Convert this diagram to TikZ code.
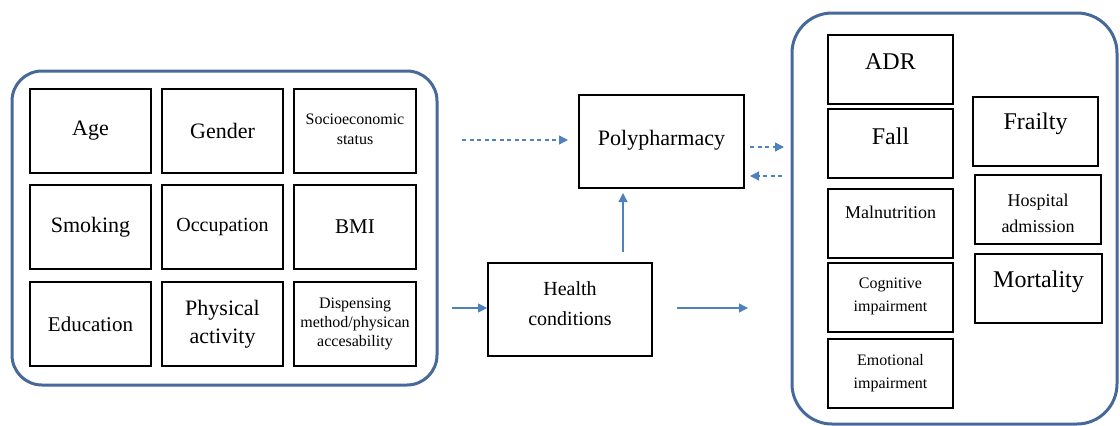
\documentclass[tikz,border=0pt]{standalone}
\usepackage{fontspec}
\setmainfont{Liberation Serif}
\usetikzlibrary{arrows.meta,positioning,calc}
\definecolor{grpblue}{HTML}{46699A}
\definecolor{arrblue}{HTML}{4F81BD}
\tikzset{
  grp/.style={draw=grpblue, line width=3pt, rounded corners=30pt},
  box/.style={draw=black, line width=1.8pt, inner sep=0pt, rectangle},
  lbl/.style={align=center, inner sep=0pt},
  arr/.style={draw=arrblue, line width=1.3pt, -{Triangle[length=9pt,width=9pt]}},
  darr/.style={arr, dash pattern=on 4pt off 3.5pt},
}
\newcommand{\bx}[6]{% name, x1, y1, x2, y2, unused
  \node[box, minimum width={(#4-#2)*1pt}, minimum height={(#5-#3)*1pt}] (#1) at ({(#2+#4)/2},{(#3+#5)/2}) {};}
\begin{document}
\begin{tikzpicture}[x=1pt,y=-1pt]
\useasboundingbox (0,0) rectangle (1120,426);
% groups
\draw[grp] (12,71) rectangle (437,385);
\draw[grp, rounded corners=40pt] (792,13) rectangle (1117,424);
% left grid
\bx{age}{30}{89}{151}{173}{}
\bx{gender}{162}{89}{283}{173}{}
\bx{socio}{294}{89}{416}{173}{}
\bx{smoking}{30}{185}{151}{269}{}
\bx{occup}{162}{185}{283}{269}{}
\bx{bmi}{294}{185}{416}{269}{}
\bx{edu}{30}{282}{151}{366}{}
\bx{phys}{162}{282}{283}{366}{}
\bx{disp}{294}{282}{416}{366}{}
\node[lbl, font=\fontsize{22}{26}\selectfont] at ([yshift=0]age.center) {Age};
\node[lbl, font=\fontsize{22}{26}\selectfont] at (gender.center) {Gender};
\node[lbl, font=\fontsize{16}{20}\selectfont] at ([yshift=2]socio.center) {Socioeconomic\\status};
\node[lbl, font=\fontsize{22}{26}\selectfont] at (smoking.center) {Smoking};
\node[lbl, font=\fontsize{20}{24}\selectfont] at (occup.center) {Occupation};
\node[lbl, font=\fontsize{21}{25}\selectfont] at (bmi.center) {BMI};
\node[lbl, font=\fontsize{21}{25}\selectfont] at (edu.center) {Education};
\node[lbl, font=\fontsize{22}{28}\selectfont] at (phys.center) {Physical\\activity};
\node[lbl, font=\fontsize{16}{19}\selectfont] at (disp.center) {Dispensing\\method/physican\\accesability};
% middle
\bx{poly}{579}{95}{744}{188}{}
\node[lbl, font=\fontsize{22}{26}\selectfont] at ([yshift=1]poly.center) {Polypharmacy};
\bx{health}{488}{263}{652}{356}{}
\node[lbl, font=\fontsize{20}{30}\selectfont] at ([yshift=6]health.center) {Health\\conditions};
% right column 1
\bx{adr}{828}{35}{953}{104}{}
\bx{fall}{828}{109}{953}{178}{}
\bx{maln}{828}{189}{953}{258}{}
\bx{cogn}{828}{263}{953}{332}{}
\bx{emot}{828}{339}{953}{408}{}
\node[lbl, font=\fontsize{24}{28}\selectfont] at ([yshift=8]adr.center) {ADR};
\node[lbl, font=\fontsize{24}{28}\selectfont] at ([yshift=7]fall.center) {Fall};
\node[lbl, font=\fontsize{18}{22}\selectfont] at ([yshift=11]maln.center) {Malnutrition};
\node[lbl, font=\fontsize{16}{23}\selectfont] at ([yshift=1]cogn.center) {Cognitive\\impairment};
\node[lbl, font=\fontsize{16}{23}\selectfont] at ([yshift=0]emot.center) {Emotional\\impairment};
% right column 2
\bx{frail}{973}{97}{1098}{166}{}
\bx{hosp}{975}{175}{1101}{244}{}
\bx{mort}{975}{254}{1102}{323}{}
\node[lbl, font=\fontsize{24}{28}\selectfont] at ([yshift=8]frail.center) {Frailty};
\node[lbl, font=\fontsize{18}{26}\selectfont] at ([yshift=-4]hosp.center) {Hospital\\admission};
\node[lbl, font=\fontsize{24}{28}\selectfont] at ([yshift=7]mort.center) {Mortality};
% connector anchors
\coordinate (dl1) at (462,140);
\coordinate (dl2) at (568,140);
\coordinate (r1a) at (750,147);
\coordinate (r1b) at (784,147);
\coordinate (r2a) at (782,176);
\coordinate (r2b) at (750,176);
\coordinate (up1) at (623,253);
\coordinate (up2) at (623,193);
\coordinate (hl1) at (452,308);
\coordinate (hl2) at (484,308);
\coordinate (hr1) at (677,308);
\coordinate (hr2) at (748,308);
\draw[darr] (dl1) -- (dl2);
\draw[darr] (r1a) -- (r1b);
\draw[darr] (r2a) -- (r2b);
\draw[arr] (health.north -| up1) ++(0,-10) -- (up2);
\draw[arr] (hl1) -- (health.west |- hl2);
\draw[arr] (hr1) -- (hr2);
\end{tikzpicture}
\end{document}
